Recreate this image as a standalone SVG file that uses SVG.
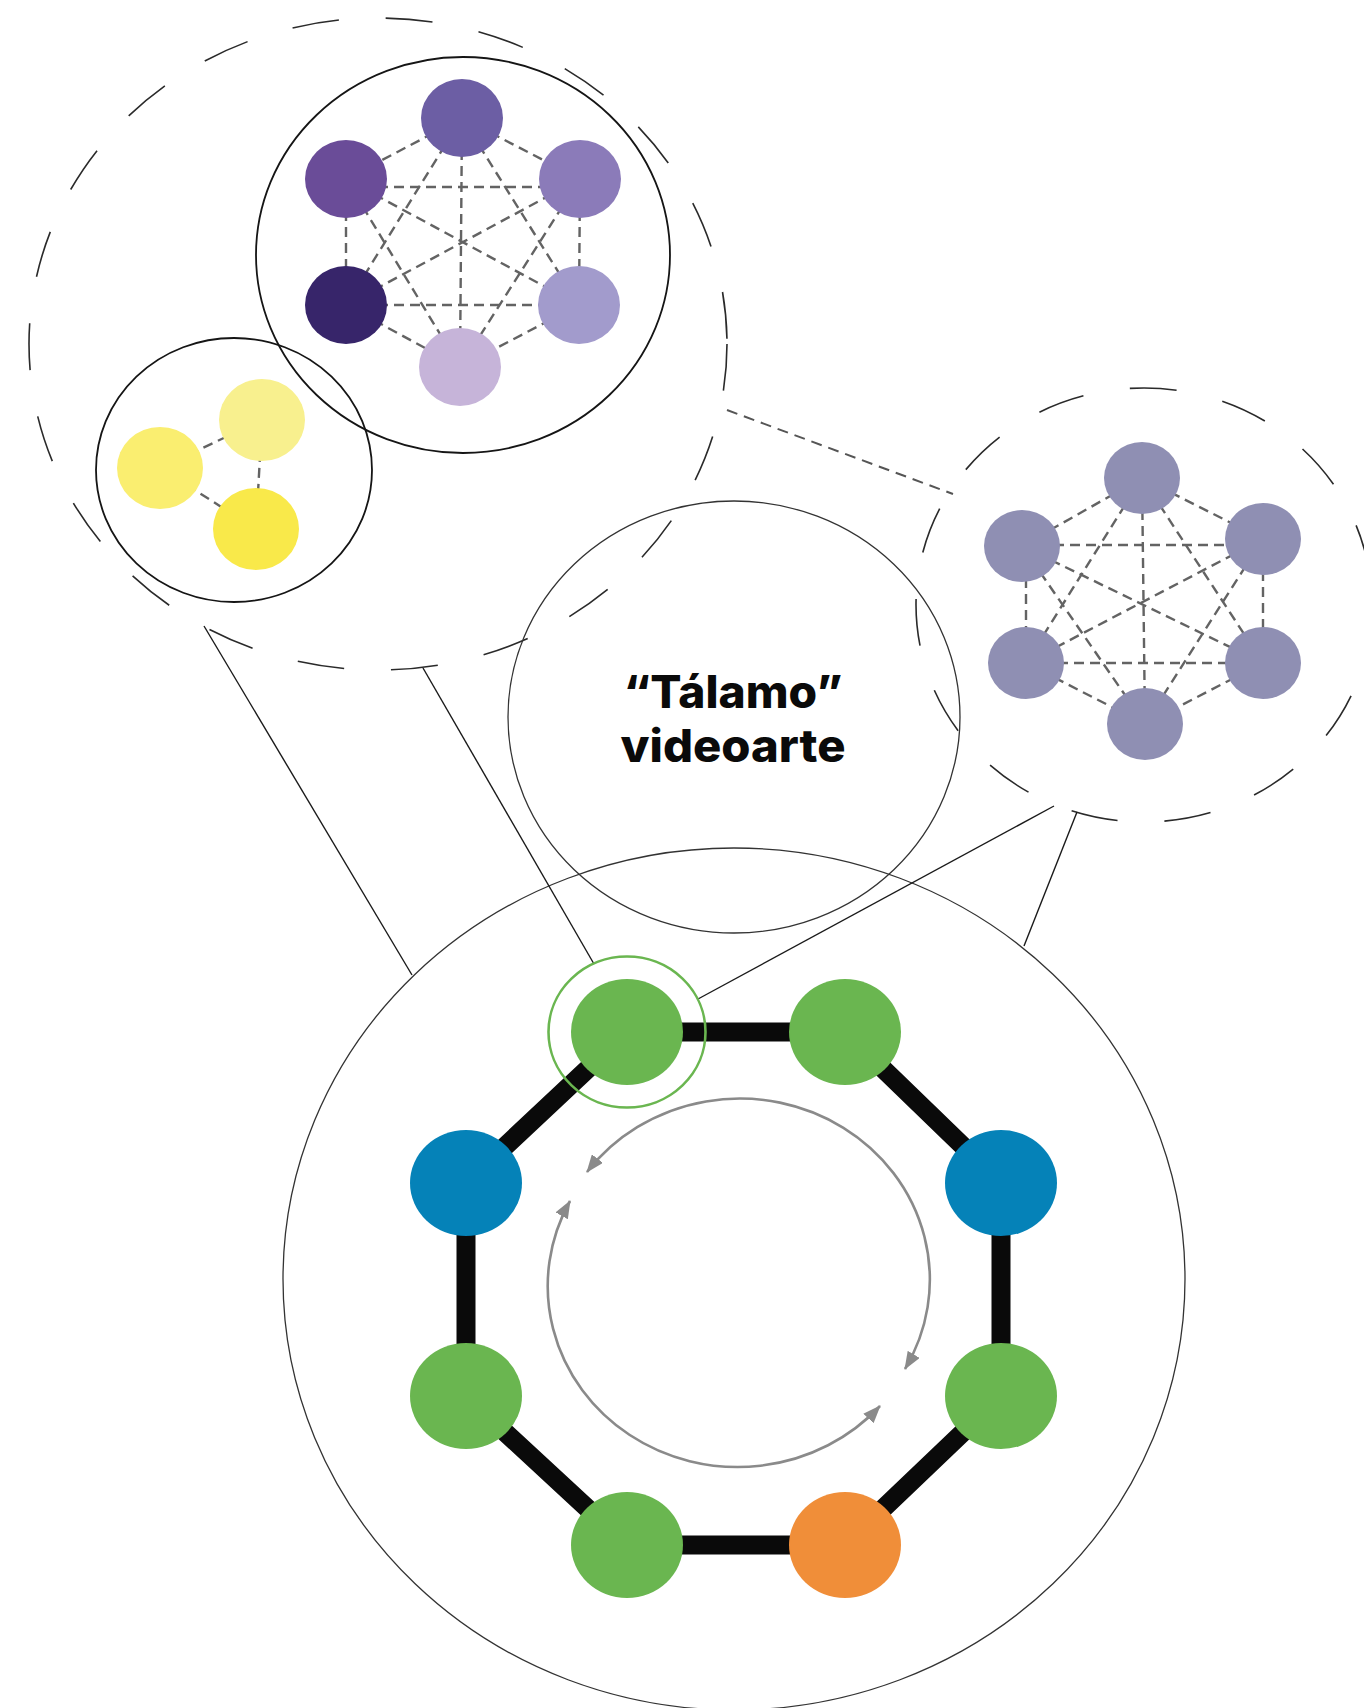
<svg xmlns="http://www.w3.org/2000/svg" width="1364" height="1708" viewBox="0 0 1364 1708">
  <style>
    .halo { fill: none; stroke: #2a2a2a; stroke-width: 1.6; stroke-dasharray: 47 47; }
    .ring { fill: none; stroke: #151515; stroke-width: 1.8; }
    .thin { fill: none; stroke: #333; stroke-width: 1.3; }
    .link { stroke: #1a1a1a; stroke-width: 1.4; fill: none; }
    .mesh { stroke: #636363; stroke-width: 2.4; stroke-dasharray: 10 6; fill: none; }
    .bridge { stroke: #555; stroke-width: 2; stroke-dasharray: 11 7; fill: none; }
    .chain { stroke: #0a0a0a; stroke-width: 19; fill: none; }
    .cycle { stroke: #8a8a8a; stroke-width: 2.6; fill: none; marker-start: url(#tip); marker-end: url(#tip); }
    .label { font-family: Inter, "Liberation Sans", sans-serif; font-weight: 800; font-size: 45px; fill: #0a0a0a; text-anchor: middle; }
  </style>
  <defs>
    <marker id="tip" markerUnits="userSpaceOnUse" markerWidth="18" markerHeight="14" refX="17" refY="7" orient="auto-start-reverse">
      <path d="M0,0 L18,7 L0,14 z" fill="#8a8a8a"/>
    </marker>
  </defs>

  <rect width="1364" height="1708" fill="#ffffff"/>

  <!-- enclosing outlines -->
  <g id="outlines">
    <ellipse class="halo" cx="378" cy="344" rx="349" ry="326"/>
    <ellipse class="halo" cx="1144" cy="605" rx="228" ry="217"/>
    <ellipse class="ring" cx="463" cy="255" rx="207" ry="198"/>
    <ellipse class="ring" cx="234" cy="470" rx="138" ry="132"/>
    <ellipse class="thin" cx="734" cy="717" rx="226" ry="216"/>
    <ellipse class="thin" cx="734" cy="1279" rx="451" ry="431"/>
  </g>

  <g id="connectors">
    <!-- links between the groups and the ring -->
    <line class="link" x1="204" y1="626" x2="412" y2="975"/>
    <line class="link" x1="423" y1="668" x2="594" y2="964"/>
    <line class="link" x1="1054" y1="806" x2="698" y2="999"/>
    <line class="link" x1="1077" y1="812" x2="1024" y2="946"/>
    <line class="bridge" x1="727" y1="410" x2="953" y2="494"/>

    <!-- purple cluster mesh -->
    <g>
      <line class="mesh" x1="462" y1="118" x2="346" y2="179"/>
      <line class="mesh" x1="462" y1="118" x2="580" y2="179"/>
      <line class="mesh" x1="462" y1="118" x2="346" y2="305"/>
      <line class="mesh" x1="462" y1="118" x2="579" y2="305"/>
      <line class="mesh" x1="462" y1="118" x2="460" y2="367"/>
      <line class="mesh" x1="346" y1="187" x2="580" y2="187"/>
      <line class="mesh" x1="346" y1="179" x2="346" y2="305"/>
      <line class="mesh" x1="346" y1="179" x2="579" y2="305"/>
      <line class="mesh" x1="346" y1="179" x2="460" y2="367"/>
      <line class="mesh" x1="580" y1="179" x2="346" y2="305"/>
      <line class="mesh" x1="580" y1="179" x2="579" y2="305"/>
      <line class="mesh" x1="580" y1="179" x2="460" y2="367"/>
      <line class="mesh" x1="346" y1="305" x2="579" y2="305"/>
      <line class="mesh" x1="346" y1="305" x2="460" y2="367"/>
      <line class="mesh" x1="579" y1="305" x2="460" y2="367"/>
    </g>

    <!-- yellow cluster mesh -->
    <g>
      <line class="mesh" x1="160" y1="468" x2="262" y2="420"/>
      <line class="mesh" x1="262" y1="420" x2="256" y2="529"/>
      <line class="mesh" x1="160" y1="468" x2="256" y2="529"/>
    </g>

    <!-- grey cluster mesh -->
    <g>
      <line class="mesh" x1="1142" y1="478" x2="1022" y2="546"/>
      <line class="mesh" x1="1142" y1="478" x2="1263" y2="539"/>
      <line class="mesh" x1="1142" y1="478" x2="1026" y2="663"/>
      <line class="mesh" x1="1142" y1="478" x2="1263" y2="663"/>
      <line class="mesh" x1="1142" y1="478" x2="1145" y2="724"/>
      <line class="mesh" x1="1022" y1="545" x2="1263" y2="545"/>
      <line class="mesh" x1="1026" y1="546" x2="1026" y2="663"/>
      <line class="mesh" x1="1022" y1="546" x2="1263" y2="663"/>
      <line class="mesh" x1="1022" y1="546" x2="1145" y2="724"/>
      <line class="mesh" x1="1263" y1="539" x2="1026" y2="663"/>
      <line class="mesh" x1="1263" y1="539" x2="1263" y2="663"/>
      <line class="mesh" x1="1263" y1="539" x2="1145" y2="724"/>
      <line class="mesh" x1="1026" y1="663" x2="1263" y2="663"/>
      <line class="mesh" x1="1026" y1="663" x2="1145" y2="724"/>
      <line class="mesh" x1="1263" y1="663" x2="1145" y2="724"/>
    </g>

    <!-- octagonal ring -->
    <path class="chain" d="M627,1032 L845,1032 L1001,1183 L1001,1396 L845,1545 L627,1545 L466,1396 L466,1183 Z"/>

    <!-- circulation arrows -->
    <path class="cycle" d="M587,1172 A190,181 0 0 1 905,1369"/>
    <path class="cycle" d="M570,1201 A190,181 0 0 0 880,1406"/>
  </g>

  <!-- purple cluster -->
  <g id="purple-1"><ellipse cx="462" cy="118" rx="41" ry="39" fill="#6c5ea4"/></g>
  <g id="purple-2"><ellipse cx="346" cy="179" rx="41" ry="39" fill="#6a4c98"/></g>
  <g id="purple-3"><ellipse cx="580" cy="179" rx="41" ry="39" fill="#8b7bb9"/></g>
  <g id="purple-4"><ellipse cx="346" cy="305" rx="41" ry="39" fill="#37256a"/></g>
  <g id="purple-5"><ellipse cx="579" cy="305" rx="41" ry="39" fill="#a29bcc"/></g>
  <g id="purple-6"><ellipse cx="460" cy="367" rx="41" ry="39" fill="#c6b4d9"/></g>

  <!-- yellow cluster -->
  <g id="yellow-1"><ellipse cx="160" cy="468" rx="43" ry="41" fill="#faee70"/></g>
  <g id="yellow-2"><ellipse cx="262" cy="420" rx="43" ry="41" fill="#f8f08e"/></g>
  <g id="yellow-3"><ellipse cx="256" cy="529" rx="43" ry="41" fill="#f9e94a"/></g>

  <!-- grey cluster -->
  <g id="grey-1"><ellipse cx="1142" cy="478" rx="38" ry="36" fill="#8f8fb3"/></g>
  <g id="grey-2"><ellipse cx="1022" cy="546" rx="38" ry="36" fill="#8f8fb3"/></g>
  <g id="grey-3"><ellipse cx="1263" cy="539" rx="38" ry="36" fill="#8f8fb3"/></g>
  <g id="grey-4"><ellipse cx="1026" cy="663" rx="38" ry="36" fill="#8f8fb3"/></g>
  <g id="grey-5"><ellipse cx="1263" cy="663" rx="38" ry="36" fill="#8f8fb3"/></g>
  <g id="grey-6"><ellipse cx="1145" cy="724" rx="38" ry="36" fill="#8f8fb3"/></g>

  <!-- title -->
  <g id="title">
    <text class="label" x="733" y="708" textLength="219" lengthAdjust="spacingAndGlyphs">“Tálamo”</text>
    <text class="label" x="733" y="762" textLength="225" lengthAdjust="spacingAndGlyphs">videoarte</text>
  </g>

  <!-- ring members -->
  <g id="ring-1">
    <ellipse cx="627" cy="1032" rx="56" ry="53" fill="#6ab650"/>
    <ellipse cx="627" cy="1032" rx="78.5" ry="75.5" fill="none" stroke="#6ab650" stroke-width="2.6"/>
  </g>
  <g id="ring-2"><ellipse cx="845" cy="1032" rx="56" ry="53" fill="#6ab650"/></g>
  <g id="ring-3"><ellipse cx="1001" cy="1183" rx="56" ry="53" fill="#0582b8"/></g>
  <g id="ring-4"><ellipse cx="1001" cy="1396" rx="56" ry="53" fill="#6ab650"/></g>
  <g id="ring-5"><ellipse cx="845" cy="1545" rx="56" ry="53" fill="#f08e39"/></g>
  <g id="ring-6"><ellipse cx="627" cy="1545" rx="56" ry="53" fill="#6ab650"/></g>
  <g id="ring-7"><ellipse cx="466" cy="1396" rx="56" ry="53" fill="#6ab650"/></g>
  <g id="ring-8"><ellipse cx="466" cy="1183" rx="56" ry="53" fill="#0582b8"/></g>
</svg>
